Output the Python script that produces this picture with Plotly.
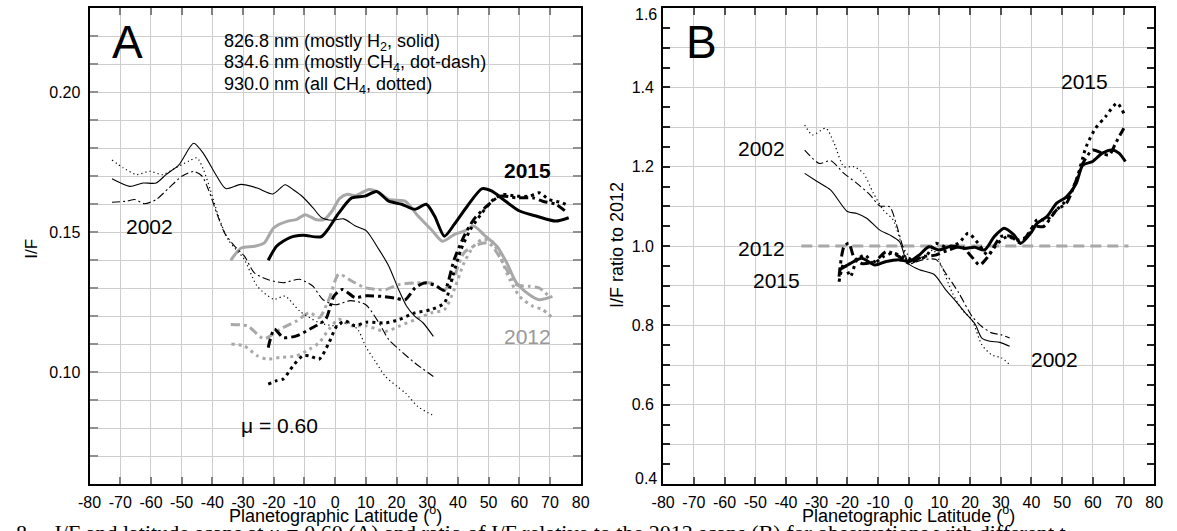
import plotly.graph_objects as go

W, H = 1177, 531

# ---------------- tick labels ----------------
x_ticks = [-80, -70, -60, -50, -40, -30, -20, -10, 0, 10, 20, 30, 40, 50, 60, 70, 80]
x_tick_labels = ['-80', '-70', '-60', '-50', '-40', '-30', '-20', '-10', '0',
                 '10', '20', '30', '40', '50', '60', '70', '80']
yB_ticks = [0.6, 0.8, 1.0, 1.2, 1.4]
yB_tick_labels = ['0.6', '0.8', '1.0', '1.2', '1.4']
yB_edge_labels = ['0.4', '1.6']

# ---------------- Panel A: I/F vs latitude ----------------
# 2002 (thin black)
lat_A2002_826 = [-72.7, -66.9, -62.6, -58.3, -55.1, -50.9, -46.1, -42.9, -38.6, -35.6, -30.7, -25.4,
                 -20.3, -16.3, -13.5, -10.5, -7.1, -4.5, -0.9, 2.8, 6.5, 10.1, 14.3, 17.5, 20.7,
                 23.3, 26.0, 28.7, 32.0]
if_A2002_826 = [0.169, 0.1663, 0.1675, 0.1675, 0.1705, 0.1740, 0.1817, 0.1780, 0.1700, 0.1655, 0.1670,
                0.1657, 0.1636, 0.1669, 0.1650, 0.1625, 0.1585, 0.1552, 0.1542, 0.1547, 0.1522, 0.1505,
                0.1437, 0.1378, 0.1294, 0.1235, 0.1199, 0.1175, 0.1127]

lat_A2002_834 = [-72.7, -68.0, -65.3, -62.1, -58.3, -54.1, -49.8, -46.1, -43.4, -41.3, -38.6, -36.0,
                 -32.7, -29.5, -26.4, -22.2, -16.9, -11.6, -7.3, -4.1, 0.0, 5.0, 10.0, 14.3, 17.5,
                 21.0, 26.0, 32.0]
if_A2002_834 = [0.1606, 0.1610, 0.1616, 0.1601, 0.1616, 0.1658, 0.1700, 0.1716, 0.1700, 0.1652, 0.1568,
                0.1496, 0.1449, 0.1413, 0.1355, 0.1331, 0.1319, 0.1331, 0.1307, 0.1260, 0.1240, 0.1255,
                0.1240, 0.1175, 0.1115, 0.1079, 0.1032, 0.0984]

lat_A2002_930 = [-72.7, -69.0, -64.7, -60.5, -56.2, -52.0, -47.7, -45.0, -42.9, -40.7, -38.0, -34.9,
                 -29.6, -25.4, -20.0, -16.3, -11.6, -5.2, 0.1, 4.4, 7.5, 10.0, 13.0, 16.3, 20.0,
                 23.0, 27.0, 31.6]
if_A2002_930 = [0.1757, 0.1729, 0.1705, 0.1717, 0.1705, 0.1729, 0.1753, 0.1765, 0.1723, 0.1652, 0.1556,
                0.1473, 0.1402, 0.1307, 0.1260, 0.1271, 0.1218, 0.1176, 0.1165, 0.1176, 0.1150, 0.1090,
                0.1040, 0.0985, 0.0950, 0.0924, 0.0876, 0.0847]

# 2012 (thick gray)
lat_A2012_826 = [-34.0, -30.6, -26.3, -23.1, -20.0, -15.7, -12.5, -9.8, -6.1, -3.5, -1.0, 1.5, 4.0,
                 6.7, 11.0, 14.2, 17.5, 22.8, 27.0, 31.3, 35.0, 38.8, 42.0, 45.2, 48.4, 52.7, 55.9,
                 59.1, 63.3, 66.5, 70.8]
if_A2012_826 = [0.1399, 0.1443, 0.1449, 0.1461, 0.1515, 0.1538, 0.1545, 0.1562, 0.1544, 0.1545, 0.1575,
                0.1620, 0.1635, 0.1630, 0.1652, 0.1642, 0.1616, 0.1610, 0.1557, 0.1509, 0.1467, 0.1491,
                0.1503, 0.1521, 0.1491, 0.1449, 0.1390, 0.1318, 0.1276, 0.1258, 0.1270]

lat_A2012_834 = [-34.0, -28.5, -23.2, -17.9, -12.6, -8.4, -5.2, -2.0, 1.2, 5.4, 9.7, 13.9, 16.4, 20.7,
                 26.0, 31.3, 35.6, 38.8, 42.0, 46.3, 50.0, 52.7, 55.9, 59.1, 63.3, 66.5, 70.3]
if_A2012_834 = [0.1170, 0.1164, 0.1119, 0.1153, 0.1182, 0.1212, 0.1194, 0.1260, 0.1349, 0.1325, 0.1301,
                0.1295, 0.1294, 0.1312, 0.1318, 0.1318, 0.1294, 0.1342, 0.1426, 0.1455, 0.1461, 0.1426,
                0.1366, 0.1312, 0.1306, 0.1300, 0.1264]

lat_A2012_930 = [-33.8, -29.6, -25.4, -22.2, -17.9, -12.6, -8.4, -5.2, -2.0, 1.2, 5.4, 10.0, 16.4, 20.7,
                 26.0, 31.3, 35.6, 38.8, 42.0, 45.2, 47.9, 51.1, 53.7, 56.9, 60.1, 64.4, 67.6, 70.8]
if_A2012_930 = [0.1100, 0.1093, 0.1058, 0.1046, 0.1052, 0.1058, 0.1081, 0.1105, 0.1153, 0.1188, 0.1165,
                0.1165, 0.1145, 0.1163, 0.1187, 0.1211, 0.1223, 0.1294, 0.1390, 0.1450, 0.1473, 0.1467,
                0.1414, 0.1330, 0.1270, 0.1235, 0.1223, 0.1193]

# 2015 (thick black)
lat_A2015_826 = [-21.8, -19.0, -14.7, -10.5, -4.6, -2.0, 1.2, 5.4, 9.7, 13.5, 17.5, 21.7, 26.0, 29.7,
                 32.4, 35.6, 38.8, 43.1, 47.9, 51.1, 54.8, 60.1, 65.5, 71.9, 76.1]
if_A2015_826 = [0.1399, 0.1450, 0.1480, 0.1488, 0.1483, 0.1515, 0.1568, 0.1622, 0.1628, 0.1645, 0.1610,
                0.1599, 0.1581, 0.1599, 0.1557, 0.1485, 0.1527, 0.1593, 0.1655, 0.1646, 0.1616, 0.1575,
                0.1557, 0.1539, 0.1551]

lat_A2015_834 = [-21.8, -19.8, -16.9, -12.6, -7.3, -3.1, -0.4, 2.3, 6.5, 10.2, 15.3, 19.6, 22.8, 26.0,
                 29.0, 32.5, 35.6, 38.8, 42.0, 45.2, 49.5, 53.7, 59.1, 64.4, 67.6, 71.9, 75.6]
if_A2015_834 = [0.1087, 0.1153, 0.1123, 0.1129, 0.1159, 0.1188, 0.1271, 0.1295, 0.1266, 0.1272, 0.1270,
                0.1264, 0.1258, 0.1300, 0.1318, 0.1310, 0.1292, 0.1402, 0.1485, 0.1545, 0.1593, 0.1628,
                0.1622, 0.1622, 0.1610, 0.1599, 0.1569]

lat_A2015_930 = [-21.8, -19.0, -16.9, -13.7, -10.5, -8.4, -5.2, -2.0, 0.6, 3.3, 6.5, 10.2, 16.4, 20.7,
                 26.0, 31.3, 35.6, 38.3, 41.0, 44.1, 47.9, 51.6, 54.8, 59.1, 63.3, 66.5, 69.7, 74.0, 76.1]
if_A2015_930 = [0.0957, 0.0969, 0.0975, 0.1022, 0.1058, 0.1058, 0.1046, 0.1105, 0.1165, 0.1182, 0.1165,
                0.1178, 0.1175, 0.1187, 0.1211, 0.1223, 0.1247, 0.1342, 0.1437, 0.1509, 0.1569, 0.1616,
                0.1634, 0.1628, 0.1628, 0.1640, 0.1616, 0.1604, 0.1593]

# ---------------- Panel B: I/F ratio to 2012 ----------------
lat_B2002_826 = [-33.9, -29.7, -25.4, -20.0, -16.9, -13.7, -9.4, -6.2, -3.0, -0.9, 0.3, 3.5, 8.3, 12.0,
                 15.3, 18.5, 21.7, 23.8, 26.5, 29.7, 32.9]
r_B2002_826 = [1.183, 1.162, 1.141, 1.087, 1.082, 1.070, 1.040, 1.028, 1.011, 0.965, 0.953, 0.940, 0.928,
               0.890, 0.861, 0.831, 0.802, 0.768, 0.760, 0.757, 0.747]

lat_B2002_834 = [-33.9, -29.1, -25.4, -21.1, -16.9, -12.6, -9.4, -6.2, -4.1, -1.9, 0.2, 4.5, 8.9, 12.0,
                 16.3, 20.6, 23.8, 27.0, 30.2, 32.9]
r_B2002_834 = [1.242, 1.208, 1.215, 1.183, 1.158, 1.129, 1.101, 1.099, 1.057, 0.998, 0.956, 0.965, 0.966,
               0.932, 0.882, 0.823, 0.797, 0.781, 0.776, 0.768]

lat_B2002_930 = [-33.9, -31.3, -27.0, -24.3, -21.1, -17.9, -14.7, -11.5, -8.3, -5.1, -1.9, 1.3, 5.0, 8.0,
                 10.5, 14.2, 17.4, 20.6, 23.8, 27.0, 30.2, 32.9]
r_B2002_930 = [1.305, 1.280, 1.297, 1.259, 1.200, 1.200, 1.183, 1.133, 1.091, 1.066, 0.998, 0.965, 0.975,
               0.990, 0.953, 0.882, 0.839, 0.814, 0.751, 0.726, 0.718, 0.701]

lat_B2012_ref = [-35.0, 71.6]
r_B2012_ref = [1.0, 1.0]

lat_B2015_826 = [-22.7, -19.0, -15.3, -11.0, -7.3, -3.0, 0.2, 3.4, 6.6, 9.8, 14.1, 18.3, 21.5, 24.7, 27.9,
                 31.1, 34.3, 36.5, 39.7, 41.8, 45.0, 48.2, 51.4, 54.6, 56.7, 59.9, 63.1, 66.3, 68.5, 70.6]
r_B2015_826 = [0.939, 0.956, 0.969, 0.952, 0.961, 0.965, 0.961, 0.977, 0.998, 0.990, 1.000, 0.994, 0.997,
               0.990, 1.024, 1.045, 1.028, 1.007, 1.032, 1.057, 1.074, 1.108, 1.124, 1.158, 1.204, 1.213,
               1.234, 1.242, 1.234, 1.213]

lat_B2015_834 = [-22.7, -21.1, -19.5, -17.9, -15.3, -11.0, -7.3, -3.0, 0.2, 4.5, 8.7, 13.0, 17.3, 20.5,
                 23.1, 25.8, 30.1, 33.3, 36.5, 40.7, 43.9, 48.2, 51.4, 54.6, 56.7, 59.9, 63.1, 65.3,
                 67.4, 70.1]
r_B2015_834 = [0.923, 0.998, 1.007, 0.973, 0.956, 0.961, 0.986, 0.973, 0.956, 0.973, 0.977, 0.990, 0.998,
               0.973, 0.952, 0.973, 1.024, 1.024, 1.007, 1.049, 1.049, 1.091, 1.108, 1.166, 1.208, 1.242,
               1.234, 1.229, 1.259, 1.297]

lat_B2015_930 = [-22.7, -21.1, -19.0, -16.9, -14.2, -11.5, -8.3, -5.1, -1.9, 1.3, 5.5, 8.7, 12.0, 16.2,
                 19.4, 22.6, 25.8, 29.0, 32.2, 35.4, 38.6, 41.8, 45.0, 48.2, 51.4, 54.6, 57.8, 60.9,
                 64.1, 67.9, 70.1]
r_B2015_930 = [0.910, 0.956, 0.923, 0.965, 0.977, 0.956, 0.973, 0.982, 0.973, 0.965, 0.973, 1.007, 0.998,
               1.007, 1.032, 1.007, 0.977, 1.007, 1.024, 1.015, 1.024, 1.066, 1.066, 1.091, 1.116, 1.166,
               1.250, 1.297, 1.326, 1.360, 1.334]

# ---------------- styling ----------------
BLACK = '#000000'
GRAY = '#a8a8a8'
GRID = '#cdcdcd'
FONT = 'Liberation Sans, Arial, Helvetica, sans-serif'

THIN = {'solid': (1.1, 'solid'), 'dashdot': (1.1, '8px,3px,2px,3px'), 'dot': (1.2, '1.2px,3px')}
THICK = {'solid': (3.0, 'solid'), 'dashdot': (3.0, '9px,4px,3px,4px'), 'dot': (3.0, '3px,4px')}

fig = go.Figure()


def add(lat, val, color, kind, thick, ax):
    w, d = (THICK if thick else THIN)[kind]
    fig.add_trace(go.Scatter(
        x=lat, y=val, mode='lines',
        line=dict(color=color, width=w, dash=d, shape='spline', smoothing=0.7),
        xaxis='x' if ax == 1 else 'x2', yaxis='y' if ax == 1 else 'y2',
        showlegend=False, hoverinfo='skip'))


# Panel A
add(lat_A2012_826, if_A2012_826, GRAY, 'solid', True, 1)
add(lat_A2012_834, if_A2012_834, GRAY, 'dashdot', True, 1)
add(lat_A2012_930, if_A2012_930, GRAY, 'dot', True, 1)
add(lat_A2002_826, if_A2002_826, BLACK, 'solid', False, 1)
add(lat_A2002_834, if_A2002_834, BLACK, 'dashdot', False, 1)
add(lat_A2002_930, if_A2002_930, BLACK, 'dot', False, 1)
add(lat_A2015_826, if_A2015_826, BLACK, 'solid', True, 1)
add(lat_A2015_834, if_A2015_834, BLACK, 'dashdot', True, 1)
add(lat_A2015_930, if_A2015_930, BLACK, 'dot', True, 1)

# Panel B
fig.add_trace(go.Scatter(x=lat_B2012_ref, y=r_B2012_ref, mode='lines',
                         line=dict(color=GRAY, width=3, dash='11px,6px'),
                         xaxis='x2', yaxis='y2', showlegend=False, hoverinfo='skip'))
add(lat_B2002_826, r_B2002_826, BLACK, 'solid', False, 2)
add(lat_B2002_834, r_B2002_834, BLACK, 'dashdot', False, 2)
add(lat_B2002_930, r_B2002_930, BLACK, 'dot', False, 2)
add(lat_B2015_826, r_B2015_826, BLACK, 'solid', True, 2)
add(lat_B2015_834, r_B2015_834, BLACK, 'dashdot', True, 2)
add(lat_B2015_930, r_B2015_930, BLACK, 'dot', True, 2)

# ---------------- axes ----------------
ydom = [1 - 484 / H, 1 - 8 / H]
common_x = dict(range=[-80, 80], tickmode='array', tickvals=x_ticks, ticktext=x_tick_labels,
                showgrid=True, gridcolor=GRID, gridwidth=1, zeroline=False,
                ticks='inside', ticklen=7, tickwidth=1.5,
                showline=True, linecolor=BLACK, linewidth=2, mirror='ticks',
                tickfont=dict(size=16, color=BLACK, family=FONT), ticklabelstandoff=3)

fig.update_layout(
    width=W, height=H,
    margin=dict(l=0, r=0, t=0, b=0),
    paper_bgcolor='white', plot_bgcolor='white',
    font=dict(family=FONT, color=BLACK),
    xaxis=dict(domain=[79 / W, 579 / W], anchor='y', tickcolor='#808080', **common_x),
    yaxis=dict(domain=ydom, anchor='x', range=[0.06, 0.23], tickmode='linear', tick0=0, dtick=0.05,
               tickformat='.2f', showgrid=True, gridcolor=GRID, gridwidth=1, zeroline=False,
               ticks='inside', ticklen=8, tickwidth=1.5, tickcolor='#909090',
               minor=dict(dtick=0.01, tick0=0, ticks='inside', ticklen=8, tickwidth=1.5,
                          tickcolor='#909090', showgrid=True, gridcolor=GRID, gridwidth=1),
               showline=True, linecolor=BLACK, linewidth=2, mirror='ticks',
               tickfont=dict(size=16, color=BLACK, family=FONT), ticklabelstandoff=4),
    xaxis2=dict(domain=[663 / W, 1163 / W], anchor='y2', tickcolor='#505050', **common_x),
    yaxis2=dict(domain=ydom, anchor='x2', range=[0.4, 1.6], tickmode='array', tickvals=yB_ticks,
                ticktext=yB_tick_labels, showgrid=True, gridcolor=GRID, gridwidth=1, zeroline=False,
                ticks='inside', ticklen=7, tickwidth=1.5, tickcolor='#222222',
                minor=dict(dtick=0.1, tick0=0, ticks='inside', ticklen=7, tickwidth=1.5,
                           tickcolor='#222222', showgrid=True, gridcolor=GRID, gridwidth=1),
                showline=True, linecolor=BLACK, linewidth=2, mirror='ticks',
                tickfont=dict(size=16, color=BLACK, family=FONT), ticklabelstandoff=4),
    # extra overlay axis carrying the 0.05 tick marks of panel B (no labels, no grid)
    yaxis3=dict(domain=ydom, anchor='x2', overlaying='y2', range=[0.4, 1.6], tickmode='linear',
                tick0=0, dtick=0.05, showticklabels=False, showgrid=False, zeroline=False,
                ticks='inside', ticklen=7, tickwidth=1.5, tickcolor='#222222',
                showline=False, mirror='ticks'),
)
# a dummy invisible trace so the overlay axis is drawn
fig.add_trace(go.Scatter(x=lat_B2012_ref, y=r_B2012_ref, mode='lines', line=dict(width=0),
                         opacity=0, xaxis='x2', yaxis='y3', showlegend=False, hoverinfo='skip'))


# ---------------- text ----------------
def ann(text, xpx, ypx, size, color=BLACK, xanchor='center', yanchor='middle', angle=0, family=FONT):
    fig.add_annotation(text=text, x=xpx / W, y=1 - ypx / H, xref='paper', yref='paper',
                       xanchor=xanchor, yanchor=yanchor, showarrow=False, textangle=angle,
                       font=dict(size=size, color=color, family=family))


# axis titles
ann('Planetographic Latitude (<sup>o</sup>)', 329, 514, 18)
ann('Planetographic Latitude (<sup>o</sup>)', 913, 514, 18)
ann('I/F', 19, 249, 17, angle=-90)
ann('I/F ratio to 2012', 616, 245, 18, angle=-90)

# panel B edge tick labels (shifted inward as in the original)
ann(yB_edge_labels[0], 659, 478, 16, xanchor='right')
ann(yB_edge_labels[1], 659, 15, 16, xanchor='right')

# panel A labels
ann('A', 117.5, 42, 46)
ann('826.8 nm (mostly H<sub>2</sub>, solid)', 214, 42, 18, xanchor='left')
ann('834.6 nm (mostly CH<sub>4</sub>, dot-dash)', 214, 63, 18, xanchor='left')
ann('930.0 nm (all CH<sub>4</sub>, dotted)', 214, 85, 18, xanchor='left')
ann('2002', 140.5, 226, 21)
ann('<b>2015</b>', 525, 170, 21)
ann('2012', 525, 336, 21, color='#999999')
ann('\u03bc = 0.60', 272.5, 425, 21)

# panel B labels
ann('B', 702, 42, 46)
ann('2002', 763.5, 148, 21)
ann('2012', 763.5, 248, 21)
ann('2015', 778.5, 280, 21)
ann('2015', 1091.5, 81, 21)
ann('2002', 1061, 359, 21)

# clipped caption below the figure
ann('8.    I/F and latitude scans at \u03bc = 0.60 (A) and ratio of I/F relative to the 2012 scans (B) '
    'for observations with different t', 2, 518, 22, xanchor='left', yanchor='top',
    family='Liberation Serif, Times New Roman, serif')

fig.write_html("out.html", config={'displayModeBar': False},
               post_script="document.body.style.margin='0';document.body.style.overflow='hidden';")
